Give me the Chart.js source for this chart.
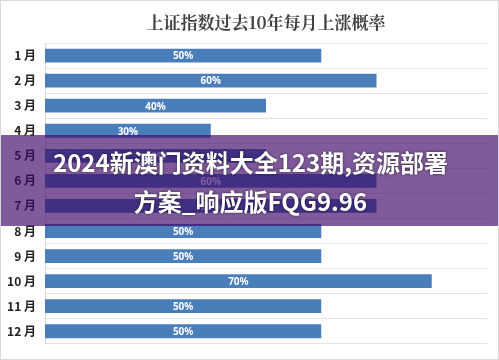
<!DOCTYPE html>
<html>
<head>
<meta charset="utf-8">
<script src="https://cdn.jsdelivr.net/npm/chart.js@4/dist/chart.umd.min.js"></script>
<style>
  html, body { margin: 0; padding: 0; background: #fff; }
  #wrap { position: relative; width: 499px; height: 360px; box-sizing: border-box; border: 1px solid #d9d9d9; overflow: hidden; }
  #c { position: absolute; left: -1px; top: -1px; }
  #banner {
    position: absolute; left: 0; top: 134px; width: 499px; height: 91px;
    background: rgba(62, 6, 103, 0.66);
    display: flex; align-items: center; justify-content: center; text-align: center;
    color: #fff; font-family: "Noto Sans CJK SC", sans-serif; font-weight: 700;
    font-size: 24px; line-height: 39px; text-shadow: 0 0 3px rgba(0,0,0,0.6);
  }
</style>
</head>
<body>
<div id="wrap">
  <canvas id="c" width="499" height="360"></canvas>
  <div id="banner">2024新澳门资料大全123期,资源部署<br>方案_响应版FQG9.96</div>
</div>
<script>
const titleText = '上证指数过去10年每月上涨概率';
const months = ['1 月','2 月','3 月','4 月','5 月','6 月','7 月','8 月','9 月','10 月','11 月','12 月'];
const upProbability = [0.5, 0.6, 0.4, 0.3, 0.4, 0.6, 0.6, 0.5, 0.5, 0.7, 0.5, 0.5];
const axisMax = 0.8;

const labelPlugin = {
  id: 'barLabels',
  afterDatasetsDraw(chart) {
    const ctx = chart.ctx;
    const meta = chart.getDatasetMeta(0);
    ctx.save();
    ctx.fillStyle = '#ffffff';
    ctx.font = 'bold 10px "Noto Sans", "DejaVu Sans", sans-serif';
    ctx.textAlign = 'center';
    ctx.textBaseline = 'middle';
    meta.data.forEach((bar, i) => {
      const v = chart.data.datasets[0].data[i];
      ctx.fillText(Math.round(v * 100) + '%', (bar.x + bar.base) / 2, bar.y + 1);
    });
    ctx.restore();
  }
};

new Chart(document.getElementById('c'), {
  type: 'bar',
  data: {
    labels: months,
    datasets: [{
      data: upProbability,
      backgroundColor: '#4a7ebb',
      categoryPercentage: 0.55,
      barPercentage: 1.0
    }]
  },
  options: {
    indexAxis: 'y',
    responsive: false,
    animation: false,
    layout: { padding: { left: 0, right: 12, top: 0, bottom: 12 } },
    plugins: {
      legend: { display: false },
      tooltip: { enabled: false },
      title: {
        display: true,
        fullSize: false,
        text: titleText,
        color: '#404040',
        font: { family: '"Noto Serif CJK SC", "Noto Sans CJK SC", sans-serif', size: 17, weight: 'bold', lineHeight: 1.2 },
        padding: { top: 12, bottom: 10.6 }
      }
    },
    scales: {
      x: {
        min: 0, max: axisMax,
        display: false,
        grid: { display: false }
      },
      y: {
        afterFit(scale) { scale.width = 45; },
        grid: { display: true, color: '#e3e3e3', lineWidth: 1, offset: true, drawTicks: false },
        border: { display: true, color: '#d9d9d9' },
        ticks: {
          color: '#222',
          padding: 9,
          font: { family: '"Noto Sans CJK SC", sans-serif', size: 12, weight: 'bold' }
        }
      }
    }
  },
  plugins: [labelPlugin]
});
</script>
</body>
</html>
